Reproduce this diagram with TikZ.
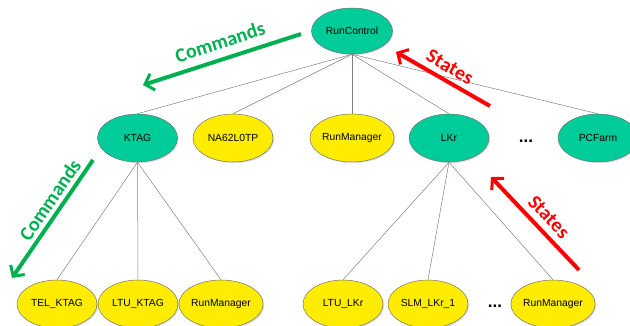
\documentclass[tikz,border=0pt]{standalone}
\usepackage{fontspec}
\setmainfont{Liberation Sans}
\newfontfamily\calib{Carlito}
\usetikzlibrary{shapes.geometric,arrows.meta,shadows}
\definecolor{teal1}{HTML}{00CC99}
\definecolor{yel1}{HTML}{FFEC00}
\definecolor{grn1}{HTML}{00B050}
\definecolor{red1}{HTML}{FF0000}
\tikzset{
  base/.style={ellipse, draw=black!55, line width=0.5pt, minimum width=80pt, minimum height=48pt, inner sep=0pt,
    font=\fontsize{10.3}{12}\selectfont,
    drop shadow={opacity=0.25, shadow xshift=1.2pt, shadow yshift=-1.2pt}},
  tnode/.style={base, fill=teal1},
  ynode/.style={base, fill=yel1},
  link/.style={draw=black!50, line width=0.5pt},
  cmdarrow/.style={draw=grn1, line width=4pt, -{Straight Barb[length=8pt,width=17pt,line width=3pt]}},
  statearrow/.style={draw=red1, line width=4pt, -{Straight Barb[length=8pt,width=17pt,line width=3pt]}},
  cmdtext/.style={text=grn1, font=\calib\bfseries\fontsize{20}{22}\selectfont},
  statetext/.style={text=red1, font=\calib\bfseries\fontsize{20}{22}\selectfont},
  dotstext/.style={font=\bfseries\fontsize{17}{18}\selectfont}
}
\begin{document}
\begin{tikzpicture}[x=1pt,y=-1pt]
\useasboundingbox (0,0) rectangle (630,325);
% top
\node[tnode, minimum width=81pt, minimum height=46pt] (rc) at (352,31) {RunControl};
% second row
\node[tnode] (ktag) at (137.5,138) {KTAG};
\node[ynode] (l0tp) at (233,138) {NA62L0TP};
\node[ynode] (rm1) at (352,138) {RunManager};
\node[tnode] (lkr) at (449,138) {LKr};
\node[tnode] (pcf) at (598,138) {PCFarm};
\node[dotstext] (d1) at (526,141) {...};
% third row
\node[ynode] (tel) at (57,304) {TEL\_KTAG};
\node[ynode] (ltuk) at (138,304) {LTU\_KTAG};
\node[ynode] (rm2) at (221,304) {RunManager};
\node[ynode] (ltul) at (343,304) {LTU\_LKr};
\node[ynode] (slm) at (428,304) {SLM\_LKr\_1};
\node[dotstext] (d2) at (495,306) {...};
\node[ynode] (rm3) at (553,304) {RunManager};
% links
\foreach \c in {ktag,l0tp,rm1,lkr,pcf} \draw[link] (rc.south) -- (\c.north);
\foreach \c in {tel,ltuk,rm2} \draw[link] (ktag.south) -- (\c.north);
\foreach \c in {ltul,slm,rm3} \draw[link] (lkr.south) -- (\c.north);
% arrows
\coordinate (c1a) at (301,34);
\coordinate (c1b) at (143,85);
\draw[cmdarrow] (c1a) -- (c1b);
\node[cmdtext, rotate=18] (c1t) at (220,42) {Commands};
\coordinate (s1a) at (490,106);
\coordinate (s1b) at (396,52);
\draw[statearrow] (s1a) -- (s1b);
\node[statetext, rotate=-30] (s1t) at (450,67) {States};
\coordinate (c2a) at (93,160);
\coordinate (c2b) at (12,278);
\draw[cmdarrow] (c2a) -- (c2b);
\node[cmdtext, rotate=55.5] (c2t) at (50,200) {Commands};
\coordinate (s2a) at (579,270);
\coordinate (s2b) at (491,177);
\draw[statearrow] (s2a) -- (s2b);
\node[statetext, rotate=-46.6] (s2t) at (549,217) {States};
\end{tikzpicture}
\end{document}
